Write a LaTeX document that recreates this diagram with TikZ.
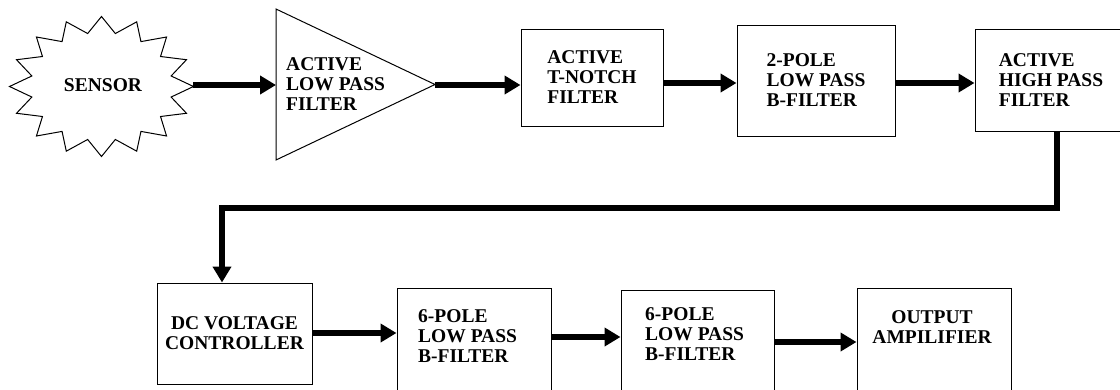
\documentclass[tikz,border=0pt]{standalone}
\usepackage{fontspec}
\setmainfont{Liberation Serif}
\usetikzlibrary{arrows.meta}
\begin{document}
\begin{tikzpicture}[x=1pt,y=-1pt,
  outline/.style={draw=black, line width=1pt, line join=miter},
  blk/.style={outline, inner sep=0pt, font=\fontsize{19.5}{20}\selectfont\bfseries},
  lbl/.style={inner sep=0pt, font=\fontsize{19.5}{20}\selectfont\bfseries},
  flow/.style={line width=6pt, -{Triangle[length=16pt,width=18pt]}},
]
\useasboundingbox (0,0) rectangle (1120,389);
\clip (0,0) rectangle (1120,389);

% rows on which the thick signal arrows run
\coordinate (ya) at (0,85);
\coordinate (yb) at (0,83);
\coordinate (yc) at (0,333);
\coordinate (yd) at (0,337);
\coordinate (ye) at (0,342);

% sensor starburst
\draw[outline] (193.5,86.5)
  \foreach \k in {0,...,15} {
    -- ({101.5+71*cos(\k*22.5+11.25)},{86.5-54*sin(\k*22.5+11.25)})
    -- ({101.5+92*cos((\k+1)*22.5)},{86.5-70*sin((\k+1)*22.5)})
  } -- cycle;
\node[lbl] (sensor) at (103,85) {SENSOR};
\coordinate (sensortip) at (193,85);

% active low pass filter (amplifier triangle)
\draw[outline] (276,9) -- (435,84.5) -- (276,160) -- cycle;
\coordinate (lpfin) at (276,85);
\coordinate (lpfout) at (435,85);
\node[lbl, anchor=west, align=left] (lpf) at (286,84) {ACTIVE\\LOW PASS\\FILTER};

% upper row of filter blocks
\node[blk, minimum width=142pt, minimum height=97pt, align=left] (tn) at (592,77.5) {ACTIVE\\T-NOTCH\\FILTER};
\node[blk, minimum width=158pt, minimum height=111pt, align=left] (tp) at (816,80.5) {2-POLE\\LOW PASS\\B-FILTER};
\node[blk, minimum width=152pt, minimum height=102pt, align=left] (hp) at (1051,80) {ACTIVE\\HIGH PASS\\FILTER};

% lower row of blocks
\node[blk, minimum width=155pt, minimum height=101pt, align=center] (dc) at (234.5,333.5) {DC VOLTAGE\\CONTROLLER};
\node[outline, minimum width=154pt, minimum height=110pt] (p1) at (474,343) {};
\node[lbl, anchor=west, align=left] (p1txt) at (418,336) {6-POLE\\LOW PASS\\B-FILTER};
\node[outline, minimum width=153pt, minimum height=110pt] (p2) at (697.5,345) {};
\node[lbl, anchor=west, align=left] (p2txt) at (645,334) {6-POLE\\LOW PASS\\B-FILTER};
\node[outline, minimum width=154pt, minimum height=110pt] (out) at (934,343) {};
\node[lbl, align=center] (outtxt) at (932,327) {OUTPUT\\AMPILIFIER};

% signal arrows, upper row
\draw[flow] (sensortip) -- (lpfin);
\draw[flow] (lpfout) -- (tn.west |- ya);
\draw[flow] (tn.east |- yb) -- (tp.west |- yb);
\draw[flow] (tp.east |- yb) -- (hp.west |- yb);

% return path to the lower row
\coordinate (fb1) at (1057,208);
\coordinate (fb2) at (222,208);
\draw[flow, line join=miter] (hp.south -| fb1) -- (fb1) -- (fb2) -- (dc.north -| fb2);

% signal arrows, lower row
\draw[flow] (dc.east |- yc) -- (p1.west |- yc);
\draw[flow] (p1.east |- yd) -- (p2.west |- yd);
\draw[flow] (p2.east |- ye) -- (out.west |- ye);
\end{tikzpicture}
\end{document}
